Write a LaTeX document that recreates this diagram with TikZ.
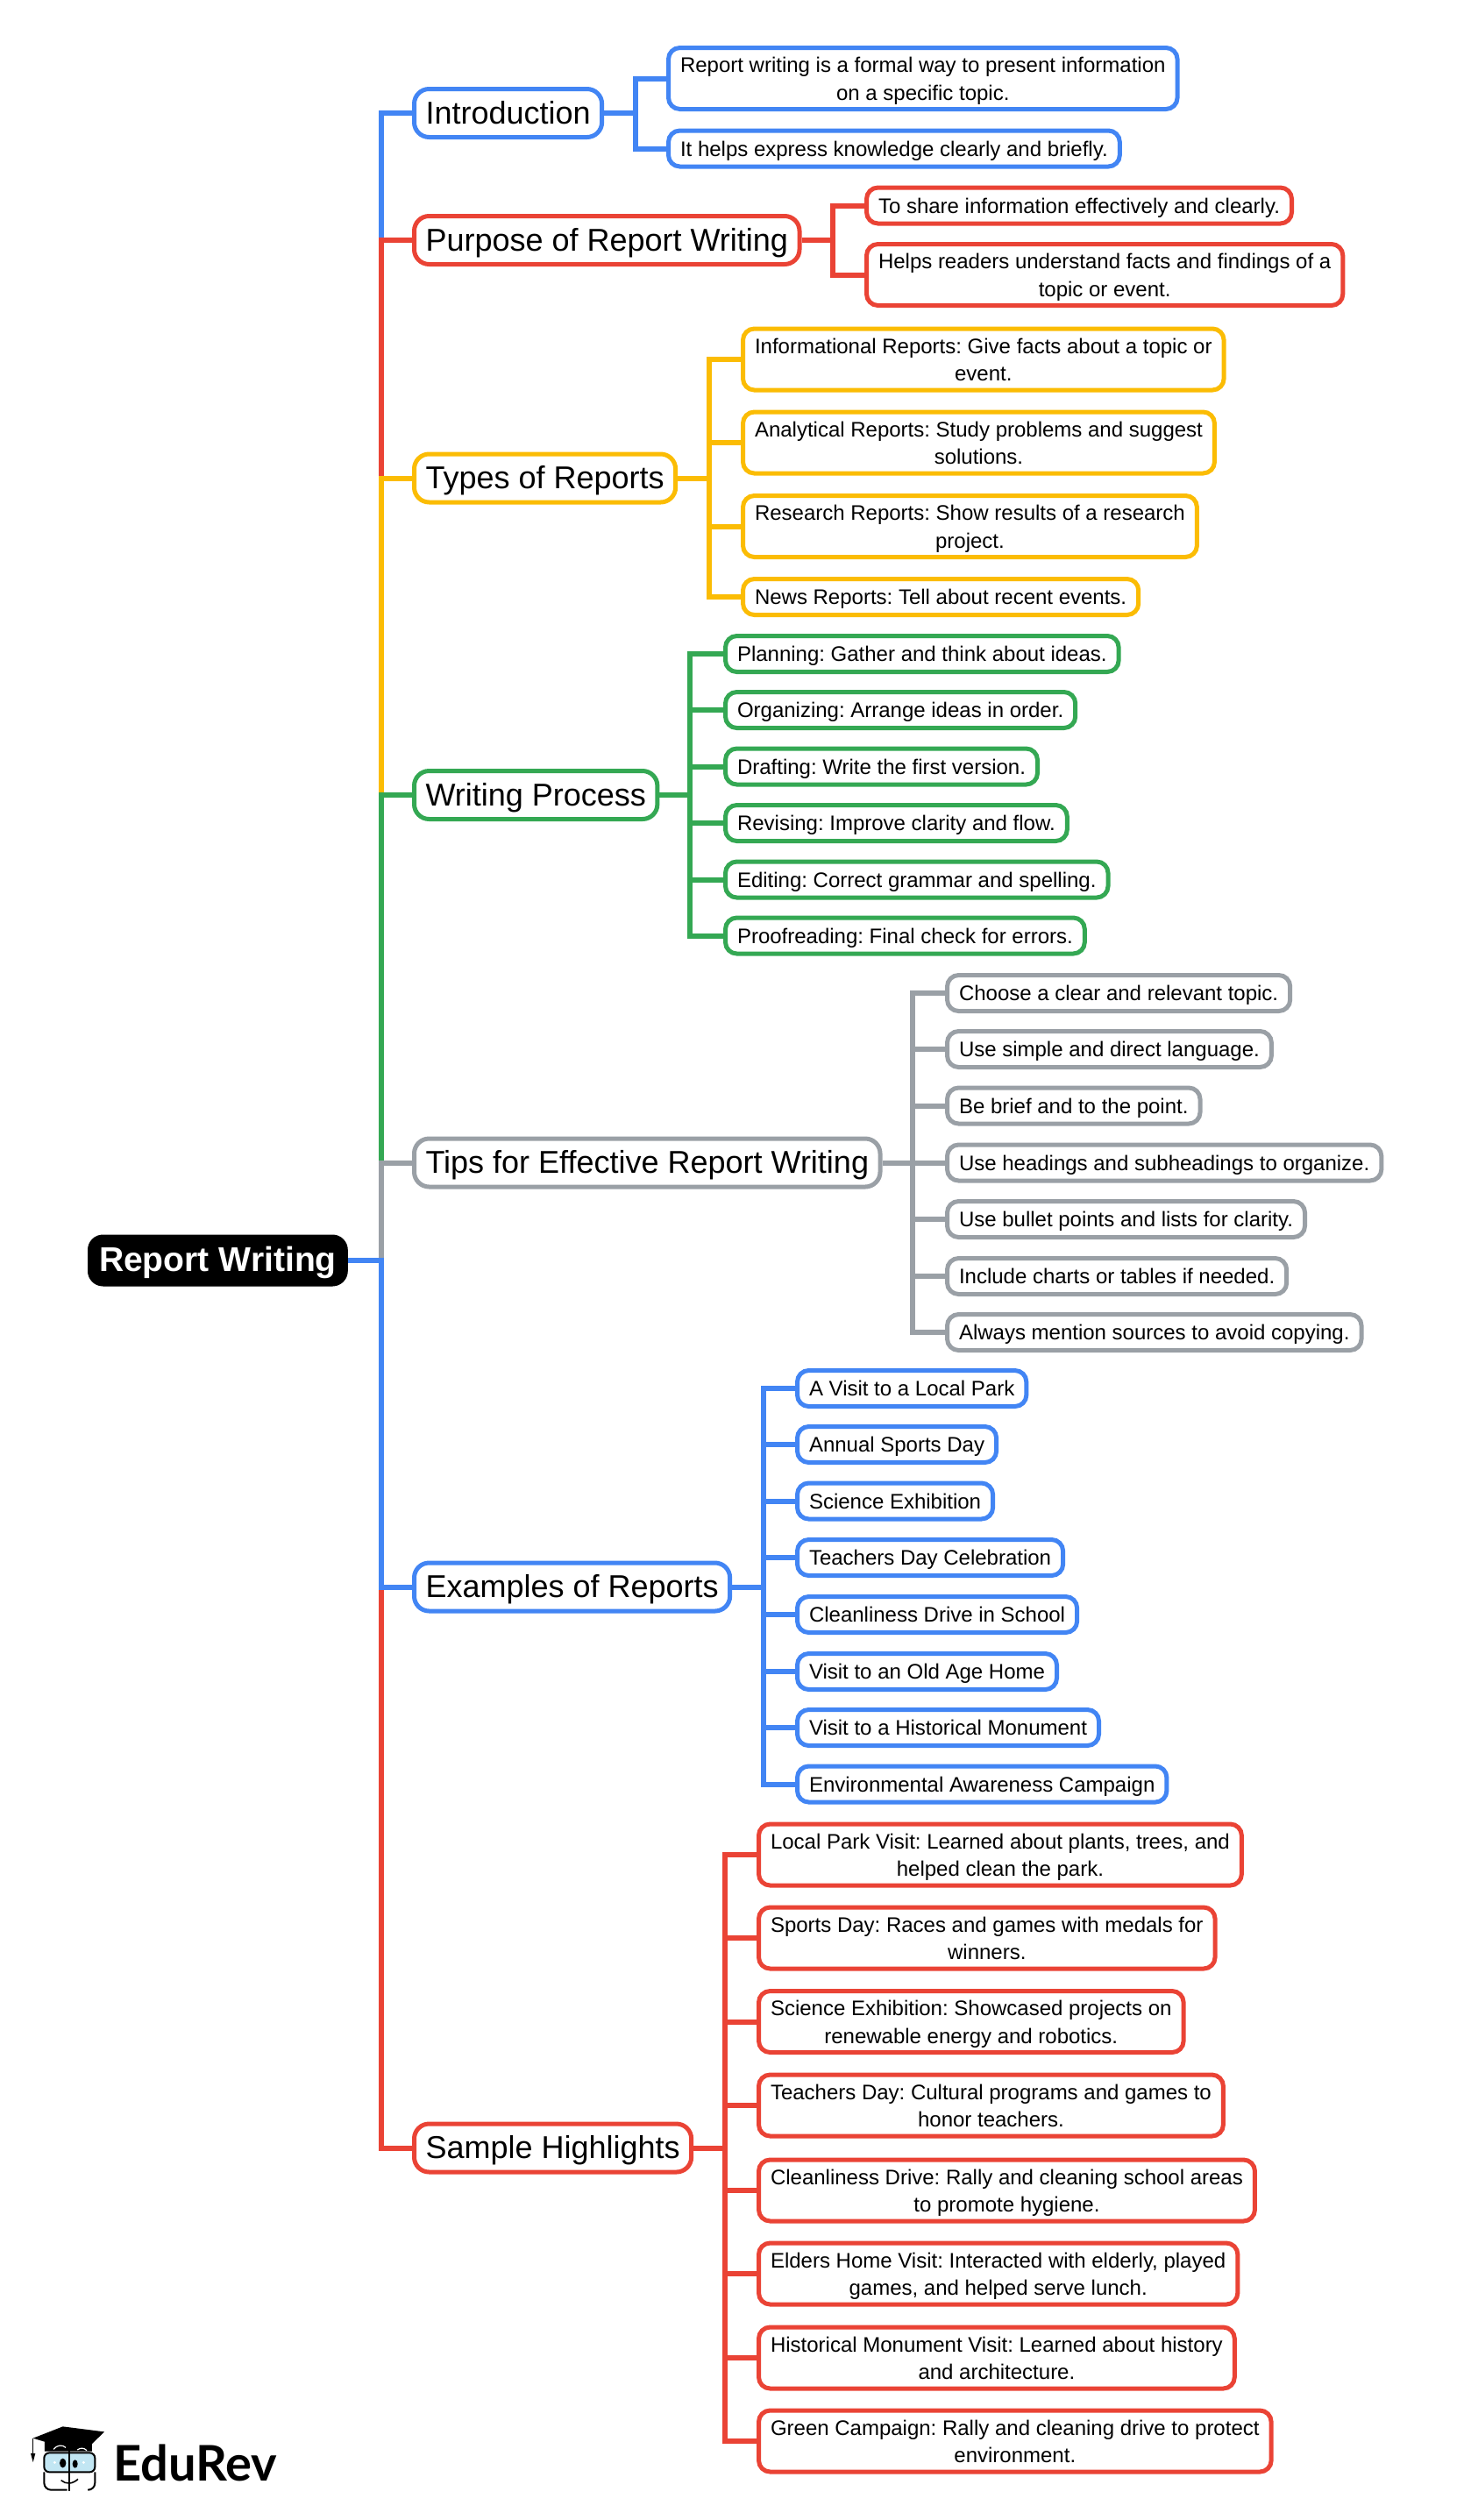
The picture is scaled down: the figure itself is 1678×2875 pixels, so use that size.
\documentclass[tikz,border=0pt]{standalone}
\usepackage{fontspec}
\setmainfont{Liberation Sans}
\newfontfamily\logofont{Lato}
\definecolor{mapblue}{HTML}{4285F4}
\definecolor{mapred}{HTML}{EA4335}
\definecolor{mapyellow}{HTML}{FBBC04}
\definecolor{mapgreen}{HTML}{34A853}
\definecolor{mapgray}{HTML}{9AA0A6}
\newcommand{\topstrut}{\rule[-9.6pt]{0pt}{44pt}}
\newcommand{\leafstrut}{\rule[-7pt]{0pt}{31.5pt}}
\newcommand{\twolines}[2]{\leafstrut #1\\#2\leafstrut}
\tikzset{
  rootbox/.style={draw=black, fill=black, text=white, line width=1pt, rounded corners=17pt, inner xsep=12.5pt, inner ysep=0pt, minimum height=58pt, anchor=west, font=\fontsize{39.1}{44}\selectfont\bfseries\frenchspacing, execute at begin node=\topstrut},
  topbox/.style={draw=#1, fill=white, line width=5pt, rounded corners=17pt, inner xsep=13pt, inner ysep=0pt, minimum height=55pt, anchor=west, font=\fontsize{36}{44}\selectfont\frenchspacing, execute at begin node=\topstrut},
  leafbox/.style={draw=#1, fill=white, line width=5pt, rounded corners=13pt, inner xsep=13.5pt, inner ysep=3.5pt, minimum height=41pt, anchor=west, align=center, font=\fontsize{24}{31.5}\selectfont\frenchspacing},
  maplink/.style={draw=#1, line width=6pt, line join=miter}
}
\begin{document}
\begin{tikzpicture}[x=1pt, y=-1pt]
\useasboundingbox (0,0) rectangle (1678,2875);

\node[rootbox] (root) at (100,1438) {Report Writing};
\coordinate (rootfork) at (435,1438);

\node[topbox=mapblue] (intro) at (470,129) {Introduction};
\node[topbox=mapred] (purpose) at (470,274) {Purpose of Report Writing};
\node[topbox=mapyellow] (types) at (470,545.5) {Types of Reports};
\node[topbox=mapgreen] (process) at (470,907) {Writing Process};
\node[topbox=mapgray] (tips) at (470,1326.5) {Tips for Effective Report Writing};
\node[topbox=mapblue] (examples) at (470,1810.5) {Examples of Reports};
\node[topbox=mapred] (sample) at (470,2450.5) {Sample Highlights};

\draw[maplink=mapblue] (root.east) -- (rootfork) |- (intro.west);
\draw[maplink=mapred] (rootfork) |- (purpose.west);
\draw[maplink=mapyellow] (rootfork) |- (types.west);
\draw[maplink=mapgreen] (rootfork) |- (process.west);
\draw[maplink=mapgray] (rootfork) |- (tips.west);
\draw[maplink=mapred] (rootfork) |- (sample.west);
\draw[maplink=mapblue] (root.east) -- (rootfork) |- (examples.west);

\node[leafbox=mapblue] (intro1) at (760,89.5) {\twolines{Report writing is a formal way to present information}{on a specific topic.}};
\node[leafbox=mapblue] (intro2) at (760,169.5) {\leafstrut It helps express knowledge clearly and briefly.};
\coordinate (introfork) at (725,129);
\draw[maplink=mapblue] (intro.east) -- (introfork) |- (intro1.west);
\draw[maplink=mapblue] (introfork) |- (intro2.west);

\node[leafbox=mapred] (purpose1) at (986,234.5) {\leafstrut To share information effectively and clearly.};
\node[leafbox=mapred] (purpose2) at (986,313.5) {\twolines{Helps readers understand facts and findings of a}{topic or event.}};
\coordinate (purposefork) at (950,274);
\draw[maplink=mapred] (purpose.east) -- (purposefork) |- (purpose1.west);
\draw[maplink=mapred] (purposefork) |- (purpose2.west);

\node[leafbox=mapyellow] (types1) at (845,410) {\twolines{Informational Reports: Give facts about a topic or}{event.}};
\node[leafbox=mapyellow] (types2) at (845,505) {\twolines{Analytical Reports: Study problems and suggest}{solutions.}};
\node[leafbox=mapyellow] (types3) at (845,600.5) {\twolines{Research Reports: Show results of a research}{project.}};
\node[leafbox=mapyellow] (types4) at (845,681) {\leafstrut News Reports: Tell about recent events.};
\coordinate (typesfork) at (808.5,545.5);
\draw[maplink=mapyellow] (types.east) -- (typesfork) |- (types1.west);
\draw[maplink=mapyellow] (typesfork) |- (types2.west);
\draw[maplink=mapyellow] (typesfork) |- (types3.west);
\draw[maplink=mapyellow] (typesfork) |- (types4.west);

\node[leafbox=mapgreen] (process1) at (825,746) {\leafstrut Planning: Gather and think about ideas.};
\node[leafbox=mapgreen] (process2) at (825,810) {\leafstrut Organizing: Arrange ideas in order.};
\node[leafbox=mapgreen] (process3) at (825,874.5) {\leafstrut Drafting: Write the first version.};
\node[leafbox=mapgreen] (process4) at (825,939) {\leafstrut Revising: Improve clarity and flow.};
\node[leafbox=mapgreen] (process5) at (825,1003.5) {\leafstrut Editing: Correct grammar and spelling.};
\node[leafbox=mapgreen] (process6) at (825,1067.5) {\leafstrut Proofreading: Final check for errors.};
\coordinate (processfork) at (787,907);
\draw[maplink=mapgreen] (process.east) -- (processfork) |- (process1.west);
\draw[maplink=mapgreen] (processfork) |- (process2.west);
\draw[maplink=mapgreen] (processfork) |- (process3.west);
\draw[maplink=mapgreen] (processfork) |- (process4.west);
\draw[maplink=mapgreen] (processfork) |- (process5.west);
\draw[maplink=mapgreen] (processfork) |- (process6.west);

\node[leafbox=mapgray] (tips1) at (1078,1133) {\leafstrut Choose a clear and relevant topic.};
\node[leafbox=mapgray] (tips2) at (1078,1197) {\leafstrut Use simple and direct language.};
\node[leafbox=mapgray] (tips3) at (1078,1261.5) {\leafstrut Be brief and to the point.};
\node[leafbox=mapgray] (tips4) at (1078,1326.5) {\leafstrut Use headings and subheadings to organize.};
\node[leafbox=mapgray] (tips5) at (1078,1391) {\leafstrut Use bullet points and lists for clarity.};
\node[leafbox=mapgray] (tips6) at (1078,1456) {\leafstrut Include charts or tables if needed.};
\node[leafbox=mapgray] (tips7) at (1078,1520) {\leafstrut Always mention sources to avoid copying.};
\coordinate (tipsfork) at (1041,1326.5);
\draw[maplink=mapgray] (tips.east) -- (tipsfork) |- (tips1.west);
\draw[maplink=mapgray] (tipsfork) |- (tips2.west);
\draw[maplink=mapgray] (tipsfork) |- (tips3.west);
\draw[maplink=mapgray] (tipsfork) |- (tips4.west);
\draw[maplink=mapgray] (tipsfork) |- (tips5.west);
\draw[maplink=mapgray] (tipsfork) |- (tips6.west);
\draw[maplink=mapgray] (tipsfork) |- (tips7.west);

\node[leafbox=mapblue] (examples1) at (907,1584) {\leafstrut A Visit to a Local Park};
\node[leafbox=mapblue] (examples2) at (907,1648) {\leafstrut Annual Sports Day};
\node[leafbox=mapblue] (examples3) at (907,1712.5) {\leafstrut Science Exhibition};
\node[leafbox=mapblue] (examples4) at (907,1777) {\leafstrut Teachers Day Celebration};
\node[leafbox=mapblue] (examples5) at (907,1842) {\leafstrut Cleanliness Drive in School};
\node[leafbox=mapblue] (examples6) at (907,1907) {\leafstrut Visit to an Old Age Home};
\node[leafbox=mapblue] (examples7) at (907,1971) {\leafstrut Visit to a Historical Monument};
\node[leafbox=mapblue] (examples8) at (907,2035.5) {\leafstrut Environmental Awareness Campaign};
\coordinate (examplesfork) at (871,1810.5);
\draw[maplink=mapblue] (examples.east) -- (examplesfork) |- (examples1.west);
\draw[maplink=mapblue] (examplesfork) |- (examples2.west);
\draw[maplink=mapblue] (examplesfork) |- (examples3.west);
\draw[maplink=mapblue] (examplesfork) |- (examples4.west);
\draw[maplink=mapblue] (examplesfork) |- (examples5.west);
\draw[maplink=mapblue] (examplesfork) |- (examples6.west);
\draw[maplink=mapblue] (examplesfork) |- (examples7.west);
\draw[maplink=mapblue] (examplesfork) |- (examples8.west);

\node[leafbox=mapred] (sample1) at (863,2116) {\twolines{Local Park Visit: Learned about plants, trees, and}{helped clean the park.}};
\node[leafbox=mapred] (sample2) at (863,2211) {\twolines{Sports Day: Races and games with medals for}{winners.}};
\node[leafbox=mapred] (sample3) at (863,2306.5) {\twolines{Science Exhibition: Showcased projects on}{renewable energy and robotics.}};
\node[leafbox=mapred] (sample4) at (863,2402) {\twolines{Teachers Day: Cultural programs and games to}{honor teachers.}};
\node[leafbox=mapred] (sample5) at (863,2499) {\twolines{Cleanliness Drive: Rally and cleaning school areas}{to promote hygiene.}};
\node[leafbox=mapred] (sample6) at (863,2594) {\twolines{Elders Home Visit: Interacted with elderly, played}{games, and helped serve lunch.}};
\node[leafbox=mapred] (sample7) at (863,2690) {\twolines{Historical Monument Visit: Learned about history}{and architecture.}};
\node[leafbox=mapred] (sample8) at (863,2785) {\twolines{Green Campaign: Rally and cleaning drive to protect}{environment.}};
\coordinate (samplefork) at (827,2450.5);
\draw[maplink=mapred] (sample.east) -- (samplefork) |- (sample1.west);
\draw[maplink=mapred] (samplefork) |- (sample2.west);
\draw[maplink=mapred] (samplefork) |- (sample3.west);
\draw[maplink=mapred] (samplefork) |- (sample4.west);
\draw[maplink=mapred] (samplefork) |- (sample5.west);
\draw[maplink=mapred] (samplefork) |- (sample6.west);
\draw[maplink=mapred] (samplefork) |- (sample7.west);
\draw[maplink=mapred] (samplefork) |- (sample8.west);

\node[anchor=base west, inner sep=0pt, font=\fontsize{56}{60}\selectfont\logofont\bfseries] (logotext) at (129,2830) {EduRev};

\begin{scope}[shift={(25,2755)}, x=0.3333pt, y=-0.3333pt]
\fill[black] (38,80) -- (140,40) -- (282,58) -- (222,117) -- (240,90) -- (240,125) -- (78,125) -- (78,92) -- cycle;
\draw[white, line width=1.2pt] (108,118) .. controls (120,102) and (140,102) .. (150,112);
\draw[white, line width=1.2pt] (190,120) .. controls (200,112) and (212,112) .. (222,122);
\draw[black, line width=1.4pt] (38,80) -- (38,132);
\fill[black] (30,132) -- (46,132) -- (38,162) -- cycle;
\draw[black, fill=black!15!cyan!25!white, line width=2pt, rounded corners=6pt] (76,130) rectangle (250,196);
\draw[black, line width=2pt, rounded corners=8pt] (76,196) -- (76,257) -- (155,257);
\draw[black, line width=2pt, rounded corners=8pt] (250,196) -- (250,257) -- (230,257);
\draw[black, line width=2pt] (163,122) -- (163,260);
\draw[black, line width=1.6pt] (134,224) .. controls (150,238) and (172,238) .. (192,220);
\fill[black] (140,165) ellipse (11 and 16);
\fill[black] (182,168) ellipse (9 and 14);
\fill[white] (112,163) circle (5);
\fill[white] (211,163) circle (5);
\end{scope}
\end{tikzpicture}
\end{document}
